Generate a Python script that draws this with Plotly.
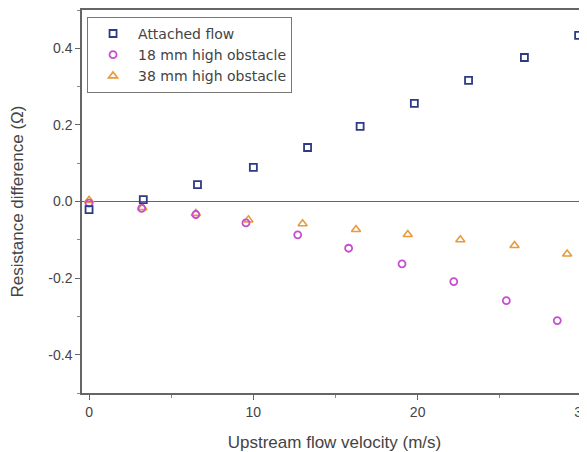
import plotly.graph_objects as go

x_attached = [0, 3.3, 6.6, 10.0, 13.3, 16.5, 19.8, 23.1, 26.5, 29.8]
y_attached = [-0.021, 0.005, 0.044, 0.089, 0.141, 0.196, 0.256, 0.316, 0.376, 0.434]

x_18mm = [0, 3.2, 6.5, 9.55, 12.7, 15.8, 19.05, 22.2, 25.4, 28.5]
y_18mm = [-0.004, -0.018, -0.034, -0.056, -0.087, -0.122, -0.163, -0.209, -0.259, -0.311]

x_38mm = [0, 3.25, 6.5, 9.7, 13.0, 16.25, 19.4, 22.6, 25.9, 29.1]
y_38mm = [0.003, -0.016, -0.031, -0.048, -0.058, -0.073, -0.086, -0.100, -0.115, -0.137]

FONT = "Liberation Sans, Arial, sans-serif"

fig = go.Figure()
fig.add_trace(go.Scatter(x=x_38mm, y=y_38mm, mode="markers", name="38 mm high obstacle",
                         marker=dict(symbol="triangle-up-open", size=8, color="#e89a3c",
                                     line=dict(width=1.6))))
fig.add_trace(go.Scatter(x=x_18mm, y=y_18mm, mode="markers", name="18 mm high obstacle",
                         marker=dict(symbol="circle-open", size=7, color="#c64fd0",
                                     line=dict(width=1.8))))
fig.add_trace(go.Scatter(x=x_attached, y=y_attached, mode="markers", name="Attached flow",
                         marker=dict(symbol="square-open", size=7, color="#2e3a85",
                                     line=dict(width=1.8))))

# The page body adds an 8px margin, so the figure is sized 8px smaller.
fig.update_layout(
    width=579, height=444,
    margin=dict(l=74, r=0, t=2, b=59),
    paper_bgcolor="white", plot_bgcolor="white",
    font=dict(family=FONT, color="#444", size=14),
    legend=dict(x=0.01, y=0.982, xanchor="left", yanchor="top",
                bordercolor="#777", borderwidth=1, bgcolor="rgba(255,255,255,0)",
                traceorder="reversed",
                font=dict(size=14, color="#444", family="DejaVu Sans, sans-serif"),
                tracegroupgap=0, itemwidth=40),
    xaxis=dict(range=[-0.43, 30.31], tickvals=[0, 10, 20, 30], automargin=False,
               ticklabeloverflow="allow",
               showline=True, linecolor="#666", linewidth=1.5, mirror=True,
               ticks="outside", ticklen=5, tickcolor="#666", tickwidth=1,
               minor=dict(dtick=5, tick0=0, ticks="outside", ticklen=3, tickcolor="#888"),
               showgrid=False, zeroline=False,
               title=dict(text="Upstream flow velocity (m/s)", font=dict(size=17, color="#444"),
                          standoff=20),
               tickfont=dict(size=14, color="#444")),
    yaxis=dict(range=[-0.5, 0.5], tickvals=[-0.4, -0.2, 0.0, 0.2, 0.4],
               ticktext=["-0.4", "-0.2", "0.0", "0.2", "0.4"], automargin=False,
               showline=True, linecolor="#666", linewidth=1.5, mirror=False,
               ticks="outside", ticklen=5, tickcolor="#666", tickwidth=1,
               minor=dict(dtick=0.1, tick0=0, ticks="outside", ticklen=3, tickcolor="#888"),
               showgrid=False, zeroline=True, zerolinecolor="#666", zerolinewidth=1.3,
               title=dict(text="Resistance difference (Ω)", font=dict(size=17, color="#444"),
                          standoff=20),
               tickfont=dict(size=14, color="#444")),
)

fig.write_html("out.html")
